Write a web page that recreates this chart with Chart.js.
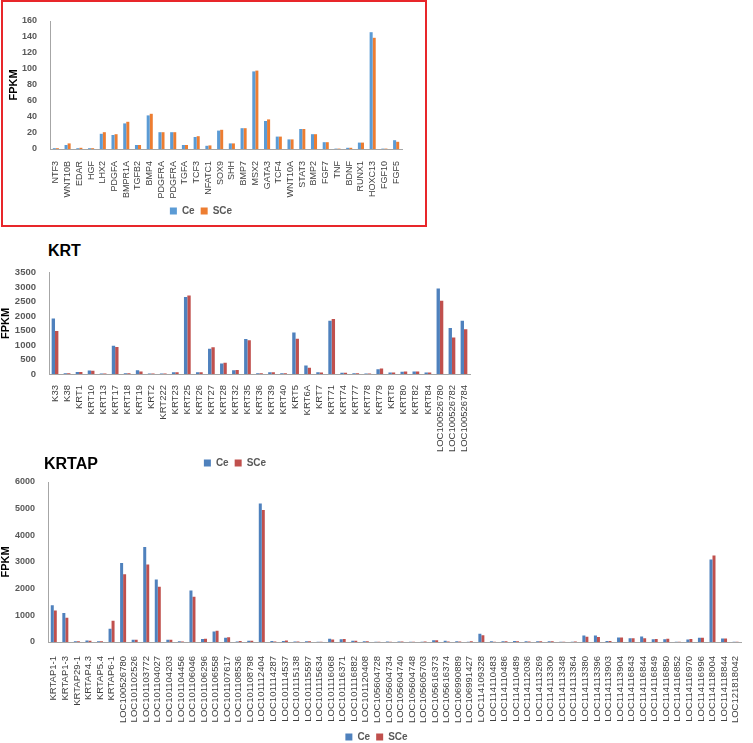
<!DOCTYPE html>
<html lang="en">
<head>
<meta charset="UTF-8">
<title>FPKM charts</title>
<script src="https://cdn.jsdelivr.net/npm/chart.js"></script>
<style>
    body { margin: 0; width: 753px; height: 743px; overflow: hidden; background: #fff; position: relative;
           font-family: "Liberation Sans", Arial, sans-serif; }
    .wrap { position: absolute; }
    .frame { position: absolute; left: 1px; top: 0px; width: 422px; height: 223px; border: 2px solid #e8262a; }
    .ttl { position: absolute; font-weight: bold; font-size: 16px; color: #000; line-height: 16px; }
</style>
</head>
<body>
<div class="frame"></div>
<div class="wrap" style="left:0;top:0;width:432px;height:226px"><canvas id="c1"></canvas></div>
<div class="ttl" style="left:48px;top:243px">KRT</div>
<div class="wrap" style="left:0;top:262px;width:488px;height:216px"><canvas id="c2"></canvas></div>
<div class="ttl" style="left:44px;top:456px">KRTAP</div>
<div class="wrap" style="left:0;top:470px;width:753px;height:282px"><canvas id="c3"></canvas></div>

<script>
// ---- signalling genes (top chart) ----
const genes1 = ['NTF3','WNT10B','EDAR','HGF','LHX2','PDGFA','BMPR1A','TGFB2','BMP4','PDGFRA','PDGFRA',
    'TGFA','TCF3','NFATC1','SOX9','SHH','BMP7','MSX2','GATA3','TCF4','WNT10A','STAT3','BMP2','FGF7',
    'TNF','BDNF','RUNX1','HOXC13','FGF10','FGF5'];
const ce1  = [1, 5, 1, 1, 19, 17.5, 32, 5, 42, 21, 21, 5, 15, 4, 23, 7, 26, 97, 35, 15.5, 12, 25, 18.5, 8.5,
    0.5, 1.5, 8, 146, 0.5, 11];
const sce1 = [1, 7, 1.5, 1, 21, 18.5, 34, 5, 44, 21, 21, 5, 16, 4.5, 24, 7, 26, 98, 37, 15.5, 12, 25, 18.5, 8.5,
    0.5, 1.5, 8, 139, 0.5, 9];

// ---- KRT ----
const genes2 = ['K33','K38','KRT1','KRT10','KRT13','KRT17','KRT18','KRT19','KRT2','KRT222','KRT23','KRT25',
    'KRT26','KRT27','KRT28','KRT32','KRT35','KRT36','KRT39','KRT40','KRT5','KRT6A','KRT7','KRT71','KRT74',
    'KRT77','KRT78','KRT79','KRT8','KRT80','KRT82','KRT84','LOC100526780','LOC100526782','LOC100526784'];
const ce2  = [1920, 30, 70, 120, 20, 980, 30, 130, 20, 20, 60, 2660, 60, 870, 360, 130, 1210, 30, 60, 30,
    1430, 290, 60, 1840, 40, 30, 15, 160, 50, 80, 90, 50, 2950, 1590, 1840];
const sce2 = [1490, 30, 70, 110, 20, 930, 30, 90, 20, 20, 60, 2710, 60, 920, 390, 140, 1170, 30, 60, 30,
    1220, 220, 50, 1900, 40, 30, 15, 190, 50, 90, 90, 50, 2530, 1260, 1550];

// ---- KRTAP ----
const genes3 = ['KRTAP1-1','KRTAP1-3','KRTAP29-1','KRTAP4.3','KRTAP5.4','KRTAP6-1','LOC100526780',
    'LOC101102526','LOC101103772','LOC101104027','LOC101104203','LOC101104456','LOC101106046','LOC101106296',
    'LOC101106558','LOC101107617','LOC101108536','LOC101108798','LOC101112404','LOC101114287','LOC101114537',
    'LOC101115138','LOC101115597','LOC101115634','LOC101116068','LOC101116371','LOC101116882','LOC101120408',
    'LOC105604728','LOC105604734','LOC105604740','LOC105604748','LOC105605703','LOC105616373','LOC105616374',
    'LOC106990889','LOC106991427','LOC114109328','LOC114110483','LOC114110486','LOC114110489','LOC114112036',
    'LOC114113269','LOC114113300','LOC114113348','LOC114113364','LOC114113380','LOC114113396','LOC114113903',
    'LOC114113904','LOC114116843','LOC114116844','LOC114116849','LOC114116850','LOC114116852','LOC114116970',
    'LOC114116996','LOC114118004','LOC114118844','LOC121818042'];
const ce3  = [1380, 1090, 30, 60, 30, 500, 2960, 80, 3560, 2340, 80, 30, 1930, 110, 390, 160, 20, 50, 5190,
    40, 40, 20, 30, 10, 120, 100, 50, 30, 10, 20, 20, 10, 10, 70, 50, 30, 10, 310, 30, 30, 40, 30, 30, 30, 10,
    10, 240, 240, 40, 170, 140, 210, 100, 100, 10, 90, 160, 3090, 130, 10];
const sce3 = [1180, 910, 30, 50, 30, 800, 2540, 80, 2910, 2070, 80, 20, 1700, 120, 420, 180, 40, 50, 4950,
    20, 60, 20, 30, 10, 90, 110, 50, 30, 10, 10, 20, 10, 15, 70, 20, 20, 30, 250, 10, 30, 30, 20, 30, 30, 10,
    20, 200, 190, 40, 170, 140, 140, 110, 120, 10, 110, 160, 3240, 130, 10];

const FONT = '"Liberation Sans", Arial, sans-serif';

function makeChart(id, labels, ce, sce, cfg) {
    return new Chart(document.getElementById(id), {
        type: 'bar',
        data: {
            labels: labels,
            datasets: [
                { label: 'Ce', data: ce, backgroundColor: cfg.colors[0] },
                { label: 'SCe', data: sce, backgroundColor: cfg.colors[1] }
            ]
        },
        options: {
            responsive: true,
            maintainAspectRatio: false,
            animation: false,
            layout: { padding: cfg.padding },
            datasets: { bar: { categoryPercentage: cfg.catPct, barPercentage: 1 } },
            plugins: {
                tooltip: { enabled: false },
                legend: {
                    position: 'bottom',
                    labels: { boxWidth: 7, boxHeight: 7, padding: 6, color: '#595959',
                              font: { family: FONT, size: 10, weight: 'bold' } }
                }
            },
            scales: {
                x: {
                    grid: { display: false },
                    border: { color: '#a6a6a6' },
                    ticks: { autoSkip: false, maxRotation: 90, minRotation: 90, padding: cfg.xPad,
                             color: '#404040', font: { family: FONT, size: cfg.xFont } },
                    afterFit: s => { s.height = cfg.xHeight; }
                },
                y: {
                    min: 0, max: cfg.yMax,
                    grid: { display: false },
                    border: { color: '#a6a6a6' },
                    ticks: { stepSize: cfg.yStep, autoSkip: false, padding: 5, color: '#595959',
                             callback: v => String(v),
                             font: { family: FONT, size: cfg.yFont, weight: 'bold' } },
                    title: { display: true, text: 'FPKM', color: '#000', padding: { top: cfg.titlePad, bottom: 0 },
                             font: { family: FONT, size: 11, weight: 'bold', lineHeight: 1 } },
                    afterFit: s => { s.width = cfg.yWidth; }
                }
            }
        }
    });
}

makeChart('c1', genes1, ce1, sce1, {
    colors: ['#5b9bd5', '#ed7d31'], padding: { top: 21, right: 30, bottom: 0, left: 0 },
    catPct: 0.52, xPad: 4, xFont: 9, xHeight: 51, yMax: 160, yStep: 20, yFont: 9, yWidth: 50, titlePad: 8
});

makeChart('c2', genes2, ce2, sce2, {
    colors: ['#4f81bd', '#c0504d'], padding: { top: 6, right: 18, bottom: 0, left: 0 },
    catPct: 0.56, xPad: 3, xFont: 9.5, xHeight: 78, yMax: 3500, yStep: 500, yFont: 9.5, yWidth: 49, titlePad: 0
});

makeChart('c3', genes3, ce3, sce3, {
    colors: ['#4f81bd', '#c0504d'], padding: { top: 12, right: 0, bottom: 0, left: 0 },
    catPct: 0.52, xPad: 6, xFont: 9.5, xHeight: 84, yMax: 6000, yStep: 1000, yFont: 9, yWidth: 48, titlePad: 0
});
</script>
</body>
</html>
